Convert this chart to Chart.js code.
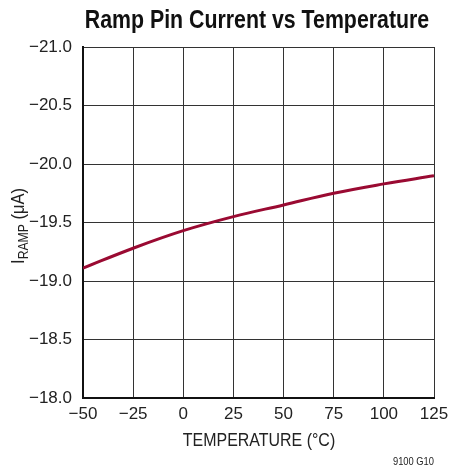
<!DOCTYPE html>
<html>
<head>
<meta charset="utf-8">
<script src="https://cdn.jsdelivr.net/npm/chart.js@4/dist/chart.umd.min.js"></script>
<style>
  html, body { margin: 0; padding: 0; background: #fff; }
  #wrap { width: 449px; height: 468px; position: relative; }
</style>
</head>
<body>
<div id="wrap"><canvas id="myChart" width="449" height="468"></canvas></div>
<script>
// temperature (°C) and ramp pin current (uA)
const temps = [-50, -25, 0, 25, 50, 75, 100, 125];
const iramp = [-19.11, -19.28, -19.43, -19.55, -19.65, -19.75, -19.83, -19.90];
const xTicks = [-50, -25, 0, 25, 50, 75, 100, 125];
const yTicks = [-21.0, -20.5, -20.0, -19.5, -19.0, -18.5, -18.0];

const FONT = '"Liberation Sans", Arial, sans-serif';
const minus = (s) => s.replace('-', '\u2212');

// draw text squeezed horizontally (no condensed font available)
const narrowText = (c, txt, x, y, sx) => {
    c.save();
    c.translate(x, y);
    c.scale(sx, 1);
    c.fillText(txt, 0, 0);
    c.restore();
};

// titles and the little part number are drawn by hand
const textPlugin = {
    id: 'texts',
    afterDraw(chart) {
        const c = chart.ctx;
        c.save();
        c.fillStyle = '#111';
        c.textBaseline = 'alphabetic';

        // main title
        c.font = 'bold 26px ' + FONT;
        c.textAlign = 'center';
        narrowText(c, 'Ramp Pin Current vs Temperature', 257, 28, 0.82);

        // x axis title
        c.fillStyle = '#222';
        c.font = '19px ' + FONT;
        narrowText(c, 'TEMPERATURE (\u00B0C)', 259, 446, 0.84);

        // part number
        c.font = '11px ' + FONT;
        c.textAlign = 'right';
        narrowText(c, '9100 G10', 434, 465, 0.85);

        // y axis title with subscript
        c.translate(24, 226);
        c.rotate(-Math.PI / 2);
        c.scale(0.87, 1);
        c.textAlign = 'left';
        const big = '19px ' + FONT, small = '14px ' + FONT;
        c.font = big;
        const wI = c.measureText('I').width;
        c.font = small;
        const wSub = c.measureText('RAMP').width;
        c.font = big;
        const wRest = c.measureText(' (\u03BCA)').width;
        let x = -(wI + wSub + wRest) / 2;
        c.fillText('I', x, 0);
        x += wI;
        c.font = small;
        c.fillText('RAMP', x, 4);
        x += wSub;
        c.font = big;
        c.fillText(' (\u03BCA)', x, 0);
        c.restore();
    }
};

new Chart(document.getElementById('myChart'), {
    type: 'line',
    data: {
        labels: temps,
        datasets: [{
            data: temps.map((t, i) => ({ x: t, y: iramp[i] })),
            borderColor: '#9a0a32',
            borderWidth: 3,
            pointRadius: 0,
            tension: 0.4,
            fill: false
        }]
    },
    options: {
        responsive: false,
        animation: false,
        layout: { padding: { left: 0, top: 47, right: 15, bottom: 0 } },
        plugins: {
            legend: { display: false },
            tooltip: { enabled: false }
        },
        scales: {
            x: {
                type: 'linear',
                min: -50,
                max: 125,
                afterBuildTicks: (s) => { s.ticks = xTicks.map(v => ({ value: v })); },
                afterFit: (s) => { s.height = 70; s.paddingLeft = 0; s.paddingRight = 0; },
                grid: { color: '#333', lineWidth: 1, drawTicks: false },
                border: { color: '#111', width: 2 },
                ticks: {
                    color: '#222',
                    padding: 6,
                    maxRotation: 0,
                    font: { family: FONT, size: 17 },
                    callback: (v) => minus(String(v))
                }
            },
            y: {
                type: 'linear',
                min: -21,
                max: -18,
                reverse: true,
                afterBuildTicks: (s) => { s.ticks = yTicks.map(v => ({ value: v })); },
                afterFit: (s) => { s.width = 83; s.paddingTop = 0; s.paddingBottom = 0; },
                grid: { color: '#333', lineWidth: 1, drawTicks: false },
                border: { color: '#111', width: 2 },
                ticks: {
                    color: '#222',
                    padding: 11,
                    font: { family: FONT, size: 17 },
                    callback: (v) => minus(v.toFixed(1))
                }
            }
        }
    },
    plugins: [textPlugin]
});
</script>
</body>
</html>
